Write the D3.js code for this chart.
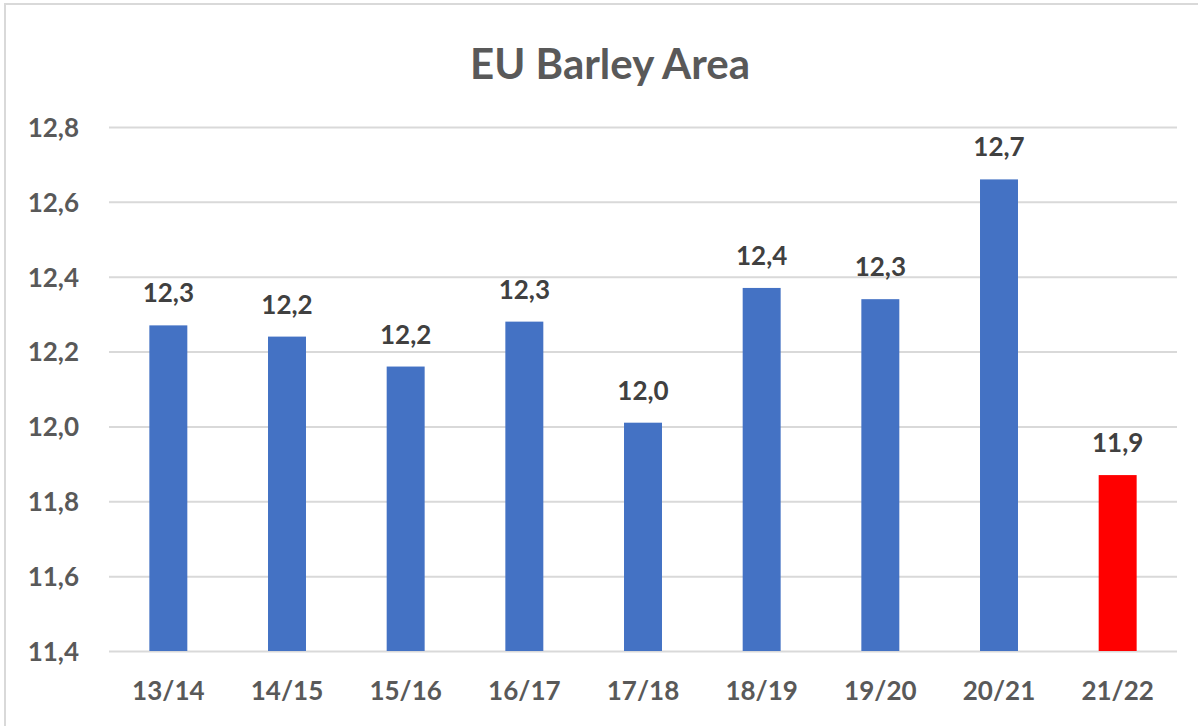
<!DOCTYPE html>
<html>
<head>
<meta charset="utf-8">
<script src="https://cdn.jsdelivr.net/npm/d3@7"></script>
<style>
  body { margin: 0; background: #fff; }
  svg text { font-family: Lato, "Open Sans", sans-serif; font-weight: bold; }
</style>
</head>
<body>
<div id="chart"></div>
<script>
var seasons = ["13/14", "14/15", "15/16", "16/17", "17/18", "18/19", "19/20", "20/21", "21/22"];
var area = [12.27, 12.24, 12.16, 12.28, 12.01, 12.37, 12.34, 12.66, 11.87];
var barColors = ["#4472c4", "#4472c4", "#4472c4", "#4472c4", "#4472c4", "#4472c4", "#4472c4", "#4472c4", "#ff0000"];
var yTicks = [11.4, 11.6, 11.8, 12.0, 12.2, 12.4, 12.6, 12.8];

var w = 1198, h = 726;
var margin = {top: 127, right: 21, bottom: 75, left: 109};

var svg = d3.select("#chart")
      .append("svg")
      .attr("width", w)
      .attr("height", h);

// outer frame
svg.append("rect")
   .attr("x", 5).attr("y", 4)
   .attr("width", w + 10).attr("height", h + 10)
   .attr("fill", "none")
   .attr("stroke", "#d9d9d9")
   .attr("stroke-width", 2);

var x = d3.scaleBand()
      .domain(seasons)
      .range([margin.left, w - margin.right])
      .paddingInner(0.68)
      .paddingOuter(0.34);

var y = d3.scaleLinear()
      .domain([11.4, 12.8])
      .range([h - margin.bottom, margin.top]);

var fmt = function(d) { return d3.format(".1f")(d).replace(".", ","); };

// gridlines
svg.append("g")
   .attr("transform", "translate(" + margin.left + ",0)")
   .call(d3.axisLeft(y).tickValues(yTicks).tickSize(-(w - margin.right - margin.left)).tickFormat(""))
   .call(function(g) {
     g.select(".domain").remove();
     g.selectAll("line").attr("stroke", "#d9d9d9").attr("stroke-width", 2);
   });

// y labels
svg.append("g")
   .attr("transform", "translate(79,0)")
   .call(d3.axisLeft(y).tickValues(yTicks).tickSize(0).tickPadding(0).tickFormat(fmt))
   .call(function(g) {
     g.select(".domain").remove();
     g.selectAll("text")
      .attr("fill", "#595959")
      .attr("font-size", "26px")
      .attr("text-anchor", "end")
      .attr("dy", "0.36em");
   });

// bars
svg.selectAll("rect.bar")
   .data(area)
   .enter()
   .append("rect")
   .attr("class", "bar")
   .attr("x", function(d, i) { return x(seasons[i]); })
   .attr("y", function(d) { return y(d); })
   .attr("width", x.bandwidth())
   .attr("height", function(d) { return y(11.4) - y(d); })
   .attr("fill", function(d, i) { return barColors[i]; });

// value labels
svg.selectAll("text.val")
   .data(area)
   .enter()
   .append("text")
   .attr("class", "val")
   .text(function(d) { return fmt(d); })
   .attr("x", function(d, i) { return x(seasons[i]) + x.bandwidth() / 2; })
   .attr("y", function(d) { return y(d) - 23; })
   .attr("text-anchor", "middle")
   .attr("font-size", "26px")
   .attr("fill", "#404040");

// x labels
svg.append("g")
   .attr("transform", "translate(0," + (h - margin.bottom) + ")")
   .call(d3.axisBottom(x).tickSize(0).tickPadding(0))
   .call(function(g) {
     g.select(".domain").remove();
     g.selectAll("text")
      .attr("fill", "#595959")
      .attr("font-size", "26px")
      .attr("dy", "49px");
   });

// title
svg.append("text")
   .text("EU Barley Area")
   .attr("x", 610)
   .attr("y", 79)
   .attr("text-anchor", "middle")
   .attr("font-size", "42px")
   .attr("fill", "#595959");
</script>
</body>
</html>
